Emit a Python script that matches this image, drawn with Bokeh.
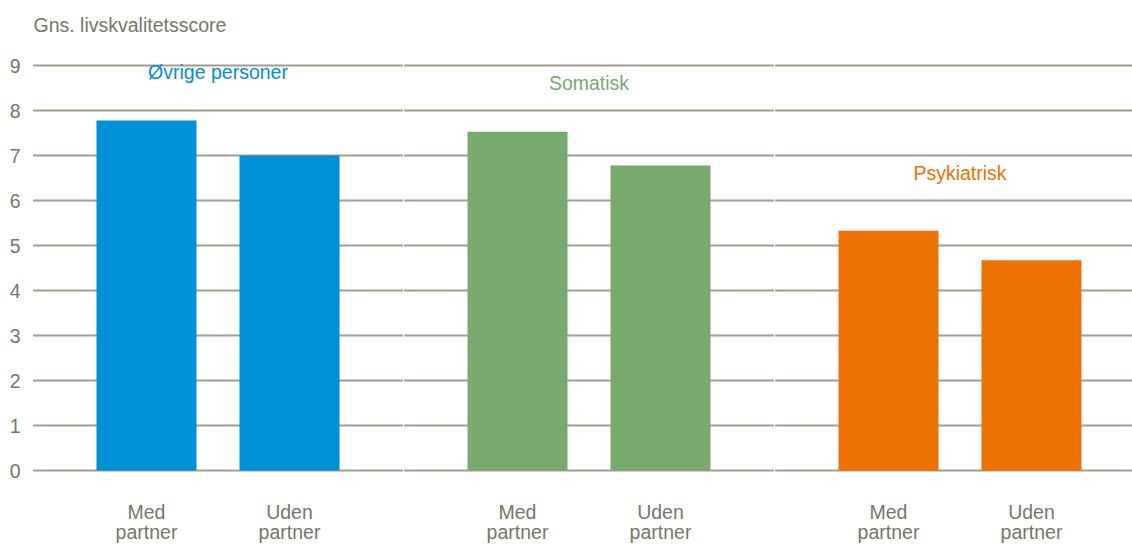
from bokeh.plotting import figure
from bokeh.models import Range1d, FixedTicker
from bokeh.core.properties import value
from bokeh.embed import file_html
from bokeh.resources import INLINE

# ---- data ----
groups = ["Øvrige personer", "Somatisk", "Psykiatrisk"]
group_colors = ["#0090d5", "#78aa6f", "#ee7203"]
sub_top = ["Med", "Uden"]
sub_bottom = ["partner", "partner"]
med_partner = [7.78, 7.53, 5.33]
uden_partner = [7.0, 6.78, 4.67]
y_ticks = [0, 1, 2, 3, 4, 5, 6, 7, 8, 9]
y_title = "Gns. livskvalitetsscore"
group_label_y = [8.86, 8.62, 6.62]

FONT = "Liberation Sans"
TXT = "#77766a"
GRID = "#a09e91"
FS = "19.5px"
SHIFT = 7.5 / 45

p = figure(width=1132, height=545, output_backend="svg", toolbar_location=None,
           x_range=Range1d(0, 1100 / 371), y_range=Range1d(-75 / 45, 470 / 45),
           x_axis_location=None, min_border_left=32, min_border_right=0,
           min_border_top=0, min_border_bottom=0)
p.outline_line_color = None
p.xgrid.visible = False
p.ygrid.visible = False
p.background_fill_color = "white"
p.border_fill_color = "white"

ax = p.yaxis[0]
ax.ticker = FixedTicker(ticks=y_ticks)
ax.axis_line_color = None
ax.major_tick_line_color = None
ax.minor_tick_line_color = None
ax.major_tick_out = 0
ax.major_tick_in = 0
ax.major_label_standoff = 12
ax.major_label_text_font = FONT
ax.major_label_text_font_size = FS
ax.major_label_text_color = TXT

# gridlines per group, with small gaps at group boundaries
gx0, gx1, gy = [], [], []
for g in range(len(groups)):
    for t in y_ticks:
        gx0.append(g + 0.0015)
        gx1.append(g + 1 - 0.0015)
        gy.append(t)
p.segment(x0=gx0, x1=gx1, y0=gy, y1=gy, line_color=GRID, line_width=2)

off = [114 / 371, 257 / 371]
bw = 100 / 371
for i, vals in enumerate([med_partner, uden_partner]):
    xs = [g + off[i] for g in range(len(groups))]
    p.vbar(x=xs, top=vals, bottom=0, width=bw, fill_color=group_colors,
           line_color=None)
    p.text(x=xs, y=[-1.089 + SHIFT] * len(groups), text=[sub_top[i]] * len(groups),
           text_align="center", text_baseline="alphabetic",
           text_font=value(FONT), text_font_size=FS, text_color=TXT)
    p.text(x=xs, y=[-1.533 + SHIFT] * len(groups), text=[sub_bottom[i]] * len(groups),
           text_align="center", text_baseline="alphabetic",
           text_font=value(FONT), text_font_size=FS, text_color=TXT)

p.text(x=[g + 0.5 for g in range(len(groups))], y=group_label_y, text=groups,
       text_align="center", text_baseline="alphabetic", text_font=value(FONT),
       text_font_size=FS, text_color=group_colors)

p.text(x=[1 / 371], y=[(470 - 32) / 45 + SHIFT], text=[y_title], text_align="left",
       text_baseline="alphabetic", text_font=value(FONT), text_font_size=FS,
       text_color=TXT)

open("out.html", "w").write(file_html(p, INLINE))
